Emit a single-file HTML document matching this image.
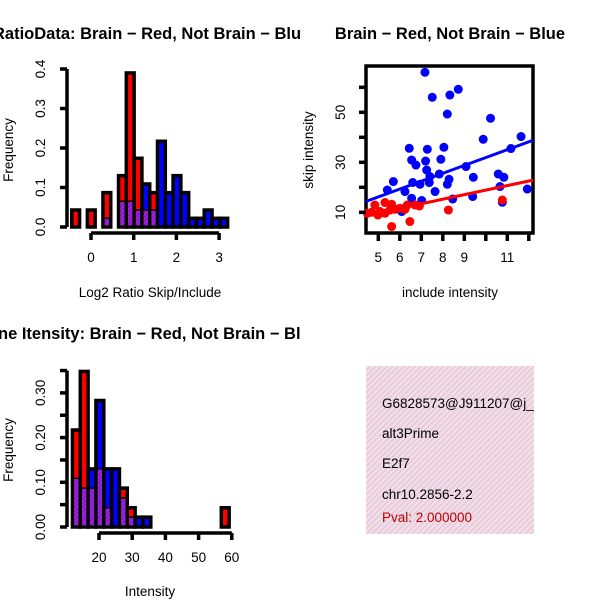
<!DOCTYPE html>
<html><head><meta charset="utf-8"><style>body{margin:0;background:#fff}svg{display:block;font-family:"Liberation Sans",sans-serif}</style></head>
<body>
<svg id="s" width="600" height="600">
<defs>
<pattern id="hatch" width="4" height="4" patternUnits="userSpaceOnUse" patternTransform="rotate(45)"><rect width="4" height="4" fill="#f7d9f0"/><rect width="1.3" height="4" fill="#d8d0c8"/></pattern>
<pattern id="purp" width="3" height="3" patternUnits="userSpaceOnUse" patternTransform="rotate(45)"><rect width="3" height="3" fill="#a020f0"/><rect width="1" height="3" fill="#7a1a9a"/></pattern>
<clipPath id="c1"><rect x="0" y="0" width="300" height="300"/></clipPath>
<clipPath id="c3"><rect x="0" y="300" width="300" height="300"/></clipPath>
<clipPath id="cb"><rect x="366" y="366" width="168" height="168"/></clipPath>
</defs>
<g id="g"></g>
</svg>
<script>
// Top histogram (log2 ratio)
const h1Start=-0.45, h1Step=0.1825;
const h1Red=[0.043,0,0.043,0,0.087,0,0.13,0.39,0.174,0.043,0.087,0,0,0,0,0,0,0,0,0];
const h1Blue=[0,0,0,0,0.022,0,0.065,0.065,0.043,0.109,0.043,0.217,0.087,0.13,0.087,0.022,0.022,0.043,0.022,0.022];
const h1XTicks=[0,1,2,3];
const h1YTicks=[0,0.1,0.2,0.3,0.4];
const h1YLabels=["0.0","0.1","0.2","0.3","0.4"];
// Bottom histogram (intensity)
const h2Start=12, h2Step=2.36;
const h2Red=[0.217,0.348,0.087,0.13,0.043,0,0.087,0.043,0,0,0,0,0,0,0,0,0,0,0,0.043];
const h2Blue=[0.109,0.087,0.13,0.283,0.13,0.13,0.065,0.022,0.022,0.022,0,0,0,0,0,0,0,0,0,0];
const h2XTicks=[20,30,40,50,60];
const h2YTicks=[0,0.05,0.1,0.15,0.2,0.25,0.3,0.35];
const h2YLabels=["0.00","","0.10","","0.20","","0.30",""];
// Scatter
const blueX=[7.17,7.51,8.33,8.72,8.21,10.22,9.88,11.64,11.17,6.44,7.28,8.05,6.55,7.2,7.91,6.75,7.25,9.08,7.4,7.84,8.29,8.21,9.42,10.58,10.84,10.66,5.7,6.6,6.94,7.37,5.42,6.24,7.64,6.55,7.02,8.46,9.39,10.77,11.93,6.09];
const blueY=[66,56,56.9,59.2,49.3,47.6,39.2,40.3,35.5,35.6,35.2,36,30.9,30.5,31.2,28.9,26.9,28.3,24.3,25.3,23.2,21.2,24,25.3,24,20.3,22.3,21.9,21.2,21.9,18.9,18.3,18.3,15.6,14.7,15.3,16.3,14,19.3,10.3];
const redX=[4.84,5.31,5.62,5.08,5.31,5.54,5.78,4.69,6.01,6.35,6.71,6.91,6.47,5.62,8.26,10.77,4.49,4.98,6.24];
const redY=[12.9,13.9,13.2,10.3,9.6,10.9,11.2,10,11.6,12.9,12.9,12.5,6.3,4.3,10.9,14.9,9.6,8.9,11.2];
// regression fits [intercept, slope]
const blueFit=[0.4,3.15];
const redFit=[0.67,1.82];
const scXTicks=[5,6,7,8,9,10,11,12];
const scXLabels=["5","6","7","8","9","","11",""];
const scYTicks=[10,20,30,40,50,60];
const scYLabels=["10","","30","","50",""];
const infoLines=["G6828573@J911207@j_","alt3Prime","E2f7","chr10.2856-2.2"];
const pval="Pval: 2.000000";

const NS="http://www.w3.org/2000/svg";
const G=document.getElementById('g');
const FS=13.5, TFS=16.5, LW=3.5;
function mk(t,a,p){const e=document.createElementNS(NS,t);for(const k in a)e.setAttribute(k,a[k]);(p||G).appendChild(e);return e;}
function txt(s,x,y,o,p){const e=mk('text',Object.assign({x:x,y:y,'font-size':FS,'text-anchor':'middle',fill:'#000'},o||{}),p);e.textContent=s;return e;}

function hist(name,start,step,red,blue,xs,ys,xT,yT,yL,yx0,yAxisX,xAxisY,clip,title,titleX,titleY,xlab,xlabY,ylabY){
  const grp=mk('g',{'clip-path':'url(#'+clip+')'});
  
  
  for(let i=0;i<red.length;i++){
    const x0=xs(start+i*step),x1=xs(start+(i+1)*step);
    const r=red[i],b=blue[i],mx=Math.max(r,b),mn=Math.min(r,b);
    if(mx<=0)continue;
    const big=mk('rect',{x:x0,y:ys(mx),width:x1-x0,height:ys(0)-ys(mx),fill:r>=b?'#ff0000':'#0000ff',stroke:'#000','stroke-width':LW},grp);
    
    
    if(mn>0){const o=mk('rect',{x:x0+1.7,y:ys(mn),width:x1-x0-3.4,height:ys(0)-ys(mn)-1.7,fill:'url(#purp)'},grp);
      
      
      mk('line',{x1:x0,x2:x1,y1:ys(mn),y2:ys(mn),stroke:'#000','stroke-width':1.5},grp);}
  }
  mk('line',{x1:yAxisX,x2:yAxisX,y1:ys(yT[0]),y2:ys(yT[yT.length-1]),stroke:'#000','stroke-width':LW});
  yT.forEach((v,i)=>{mk('line',{x1:yAxisX-7,x2:yAxisX,y1:ys(v),y2:ys(v),stroke:'#000','stroke-width':LW});
    if(yL[i]){const t=txt(yL[i],yx0,ys(v),{transform:'rotate(-90 '+yx0+' '+ys(v)+')'});}});
  mk('line',{x1:xs(xT[0]),x2:xs(xT[xT.length-1]),y1:xAxisY,y2:xAxisY,stroke:'#000','stroke-width':LW});
  xT.forEach(v=>{mk('line',{x1:xs(v),x2:xs(v),y1:xAxisY,y2:xAxisY+7,stroke:'#000','stroke-width':LW});
    const t=txt(String(v),xs(v),xAxisY+29);});
  const tt=txt(title,titleX,titleY,{'font-size':TFS,'font-weight':'bold','text-anchor':'start'},grp);
  
  const xl=txt(xlab,150,xlabY);
  const yl=txt('Frequency',13,ylabY,{transform:'rotate(-90 13 '+ylabY+')'});
}
hist('ratio-histogram',h1Start,h1Step,h1Red,h1Blue,v=>91+v*42.7,v=>227-v*395,h1XTicks,h1YTicks,h1YLabels,45,67,233,'c1',
 'RatioData: Brain \u2212 Red, Not Brain \u2212 Blue',-7,39,'Log2 Ratio Skip/Include',297,150);
hist('intensity-histogram',h2Start,h2Step,h2Red,h2Blue,v=>99+(v-20)*3.32,v=>527-v*447,h2XTicks,h2YTicks,h2YLabels,45,67,533,'c3',
 'ne Itensity: Brain \u2212 Red, Not Brain \u2212 Blue',-2,339,'Intensity',596,450);

// scatter
const sx=v=>378.3+(v-5)*21.5, sy=v=>212.3-(v-10)*2.5;
const fr=mk('rect',{x:366,y:66,width:167,height:167,fill:'none',stroke:'#000','stroke-width':LW});


const sg=mk('g',{});


blueX.forEach((x,i)=>{const c=mk('circle',{cx:sx(x),cy:sy(blueY[i]),r:4.5,fill:'#0000ff'},sg);});
redX.forEach((x,i)=>{const c=mk('circle',{cx:sx(x),cy:sy(redY[i]),r:4.5,fill:'#ff0000'},sg);});
function fitLine(f,col,name){const x0=4.42,x1=12.2;
 const l=mk('line',{x1:sx(x0),x2:sx(x1),y1:sy(f[0]+f[1]*x0),y2:sy(f[0]+f[1]*x1),stroke:col,'stroke-width':3});
 }
fitLine(blueFit,'#0000ff','blue-regression-line');
fitLine(redFit,'#ff0000','red-regression-line');
scXTicks.forEach((v,i)=>{mk('line',{x1:sx(v),x2:sx(v),y1:234,y2:241,stroke:'#000','stroke-width':LW});if(scXLabels[i]){const t=txt(scXLabels[i],sx(v),262);}});
scYTicks.forEach((v,i)=>{mk('line',{x1:359,x2:366,y1:sy(v),y2:sy(v),stroke:'#000','stroke-width':LW});if(scYLabels[i]){const t=txt(scYLabels[i],345,sy(v),{transform:'rotate(-90 345 '+sy(v)+')'});}});
let t=txt('Brain \u2212 Red, Not Brain \u2212 Blue',450,39,{'font-size':TFS,'font-weight':'bold'});
t=txt('include intensity',450,297);
t=txt('skip intensity',313,150,{transform:'rotate(-90 313 150)'});

// info box
const ig=mk('g',{'clip-path':'url(#cb)'});


mk('rect',{x:366,y:366,width:168,height:168,fill:'url(#hatch)'},ig);
const lys=[408,438,468,499];
infoLines.forEach((s,i)=>{const e=txt(s,382,lys[i],{'text-anchor':'start','font-size':13.5},ig);});
t=txt(pval,382,522,{'text-anchor':'start','font-size':13.5,fill:'#c00000'},ig);
</script>
</body></html>
